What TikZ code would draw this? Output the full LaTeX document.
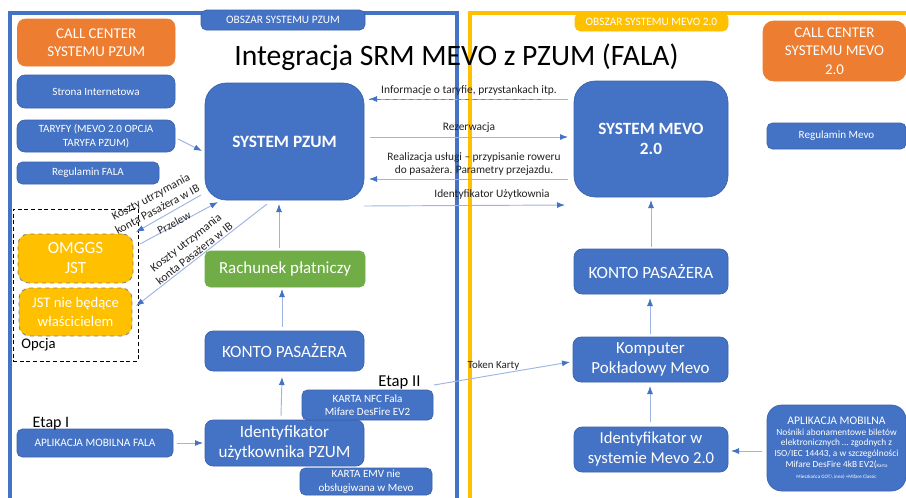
\documentclass[tikz,border=0pt]{standalone}
\usepackage{fontspec}
\setmainfont{Carlito}
\usetikzlibrary{arrows.meta}
\definecolor{bl}{HTML}{4472C4}
\definecolor{bd}{HTML}{3A62AC}
\definecolor{og}{HTML}{ED7D31}
\definecolor{ye}{HTML}{FFC000}
\definecolor{gr}{HTML}{70AD47}
\definecolor{ln}{HTML}{9DB5E3}
\definecolor{tx}{HTML}{222222}
% name, x1, y1, x2, y2, style, text
\newcommand{\bx}[7]{\node[box,#6,minimum width={(#4-#2)*0.75pt},minimum height={(#5-#3)*0.75pt}] (#1) at ({(#2+#4)/2},{(#3+#5)/2}) {#7};}
\tikzset{
  fz/.style n args={2}{font=\fontsize{#1}{#2}\selectfont},
  box/.style={rectangle,inner sep=0pt,outer sep=0pt,align=center,text=white,fill=bl,draw=bd,line width=0.5pt,rounded corners=4pt},
  big/.style={rounded corners=16pt},
  med/.style={rounded corners=6pt},
  orangebox/.style={fill=og,draw=og},
  yellowbox/.style={fill=ye,draw=gray,dashed,line width=0.6pt,rounded corners=8pt},
  greenbox/.style={fill=gr,draw=gr},
  arr/.style={draw=ln,line width=0.7pt,-{Latex[length=6pt,width=4.5pt,color=bl]}},
  lbl/.style={text=tx,inner sep=0pt,align=center},
  frameB/.style={draw=bl,line width=3pt},
  frameY/.style={draw=ye,line width=3pt}
}
\begin{document}
\begin{tikzpicture}[x=0.75pt,y=-0.75pt]
\useasboundingbox (0,0) rectangle (906,497);
\clip (0,0) rectangle (906,497);
\fill[white] (0,0) rectangle (906,497);
% frames
\draw[frameB] (10,500) -- (10,13) -- (457,13) -- (457,500);
\draw[frameY] (470,500) -- (470,13) -- (910,13);
% title
\node[inner sep=0pt,text=black,fz={22.2}{26}] (title) at (456.5,57) {Integracja SRM MEVO z PZUM (FALA)};
% left column
\bx{callL}{17.5}{19}{175}{66}{orangebox,med,fz={11.2}{13.5}}{CALL CENTER\\SYSTEMU PZUM}
\bx{strona}{17}{75}{175}{108}{med,fz={8.3}{10.3}}{Strona Internetowa}
\bx{tary}{17}{120}{175}{152}{med,fz={8.3}{10.3}}{TARYFY (MEVO 2.0 OPCJA\\TARYFA PZUM)}
\bx{regF}{17}{162}{159}{184}{fz={8.3}{10.3}}{Regulamin FALA}
\node[draw=black,densely dashed,line width=0.5pt,minimum width={125*0.75pt},minimum height={152*0.75pt},inner sep=0pt] (opt) at (75.5,285) {};
\bx{omggs}{18}{234}{133}{283}{yellowbox,fz={12.8}{15}}{OMGGS\\JST}
\bx{jst}{19}{288}{132}{336}{yellowbox,fz={11}{13.7}}{JST nie będące\\właścicielem}
\node[lbl,text=black,fz={11}{13}] (opcja) at (38.5,345) {Opcja};
% centre-left column
\bx{pzum}{205}{83}{364}{200}{big,fz={13}{15.5}}{\bfseries SYSTEM PZUM}
\bx{rach}{205}{251}{365}{287}{greenbox,fz={12.7}{15}}{Rachunek płatniczy}
\bx{konto}{205}{331}{364}{371}{med,fz={12.9}{15}}{KONTO PASAŻERA}
\bx{ident}{205}{420}{364}{466}{med,fz={12.8}{15}}{Identyfikator\\użytkownika PZUM}
\bx{nfc}{302}{390}{433}{420}{fz={8.3}{10.1}}{KARTA NFC Fala\\Mifare DesFire EV2}
\bx{emv}{300}{468}{432}{495}{fz={8.3}{10.1}}{KARTA EMV nie\\obsługiwana w Mevo}
\bx{appF}{17}{429}{173}{457}{fz={8.5}{10}}{APLIKACJA MOBILNA FALA}
\bx{obP}{201}{10}{365}{30}{fz={8.5}{10}}{OBSZAR SYSTEMU PZUM}
\node[lbl,text=black,fz={12}{14}] (etap1) at (51,424) {Etap I};
\node[lbl,text=black,fz={12.5}{14}] (etap2) at (399.5,382) {Etap II};
% right side
\bx{obM}{575}{13}{728}{31}{fill=ye,draw=ye,fz={8.5}{10}}{OBSZAR SYSTEMU MEVO 2.0}
\bx{callR}{763}{21}{906}{81}{orangebox,rounded corners=8pt,fz={11.2}{14}}{CALL CENTER\\SYSTEMU MEVO\\2.0}
\bx{mevo}{574}{81}{728}{197}{big,fz={12.9}{15.5}}{\bfseries SYSTEM MEVO\\\bfseries 2.0}
\bx{regM}{767}{123}{906}{149}{fz={8.3}{10.3}}{Regulamin Mevo}
\bx{kontoR}{574}{249}{728}{294}{med,fz={12.9}{15}}{KONTO PASAŻERA}
\bx{komp}{573}{337}{728}{382}{med,fz={12.7}{15}}{Komputer\\Pokładowy Mevo}
\bx{idw}{574}{427}{728}{472}{med,fz={12.5}{15}}{Identyfikator w\\systemie Mevo 2.0}
\bx{appM}{767}{405}{906}{491}{rounded corners=11pt,fz={7}{8.2}}{{\fontsize{8.7}{8.2}\selectfont APLIKACJA MOBILNA}\\Nośniki abonamentowe biletów\\elektronicznych … zgodnych z\\ISO/IEC 14443, a w szczególności\\Mifare DesFire 4kB EV2({\fontsize{3.8}{4}\selectfont Karta}\\{\fontsize{3.8}{4}\selectfont Mieszkańca GOT,\textbackslash{} inne) +Mifare Classic}}
% connectors
\draw[arr] ([shift={(-6,-40)}]mevo.west) -- ([shift={(5,-42.5)}]pzum.east);
\draw[draw=gray,dashed,line width=0.6pt] ([shift={(5,-42.5)}]pzum.east) -- ([shift={(-29,-40)}]mevo.west);
\draw[arr] ([shift={(6,-4.5)}]pzum.east) -- ([shift={(-6,-2)}]mevo.west);
\draw[arr] ([shift={(-6,40)}]mevo.west) -- ([shift={(5,37.5)}]pzum.east);
\draw[arr] ([shift={(0,64.5)}]pzum.east) -- ([shift={(-9,66)}]mevo.west);
\draw[arr] ([shift={(3,3)}]tary.east) -- ([shift={(-3,9.5)}]pzum.west);
\draw[arr] ([shift={(-4,53.5)}]pzum.west) -- ([shift={(3,-2)}]omggs.north east);
\draw[arr] ([shift={(7,10)}]omggs.north east) -- ([shift={(13,2)}]pzum.south west);
\draw[arr] ([shift={(-17.5,4)}]pzum.south) -- ([shift={(4,-6)}]jst.east);
\draw[arr] ([shift={(-6,-3)}]rach.north) -- ([shift={(-5.5,4)}]pzum.south);
\draw[arr] ([shift={(-2.5,-4)}]konto.north) -- ([shift={(-3,2)}]rach.south);
\draw[arr] ([shift={(-3.5,-4)}]ident.north) -- ([shift={(-2.5,6)}]konto.south);
\draw[arr] ([shift={(4,0)}]appF.east) -- ([shift={(-2,0)}]ident.west);
\draw[arr] ([shift={(1,-20)}]nfc.east) -- ([shift={(-3,2.5)}]komp.west);
\draw[arr] ([shift={(0,-2)}]kontoR.north) -- ([shift={(0,3)}]mevo.south);
\draw[arr] ([shift={(-0.5,-3)}]komp.north) -- ([shift={(-1,4)}]kontoR.south);
\draw[arr] ([shift={(-1,-5)}]idw.north) -- ([shift={(-0.5,4)}]komp.south);
\draw[arr] ([shift={(-5,3)}]appM.west) -- ([shift={(3,1.5)}]idw.east);
% connector labels
\node[lbl,fz={8.6}{10}] (l1) at (469,90) {Informacje o taryfie, przystankach itp.};
\node[lbl,fz={8.6}{10}] (l2) at (469,128) {Rezerwacja};
\node[lbl,fz={8.5}{10}] (l3) at (474,164) {Realizacja usługi – przypisanie roweru\\do pasażera. Parametry przejazdu.};
\node[lbl,fz={8.5}{10}] (l4) at (492,194) {Identyfikator Użytkownia};
\node[lbl,fz={8.8}{10.5},rotate=28] (l5) at (154,203) {Koszty utrzymania\\konta Pasażera w IB};
\node[lbl,fz={8.5}{10},rotate=28] (l6) at (174,223) {Przelew};
\node[lbl,fz={8.8}{10.5},rotate=38] (l7) at (190,248) {Koszty utrzymania\\konta Pasażera w IB};
\node[lbl,fz={8.2}{10}] (l8) at (493.5,366) {Token Karty};
\end{tikzpicture}
\end{document}
